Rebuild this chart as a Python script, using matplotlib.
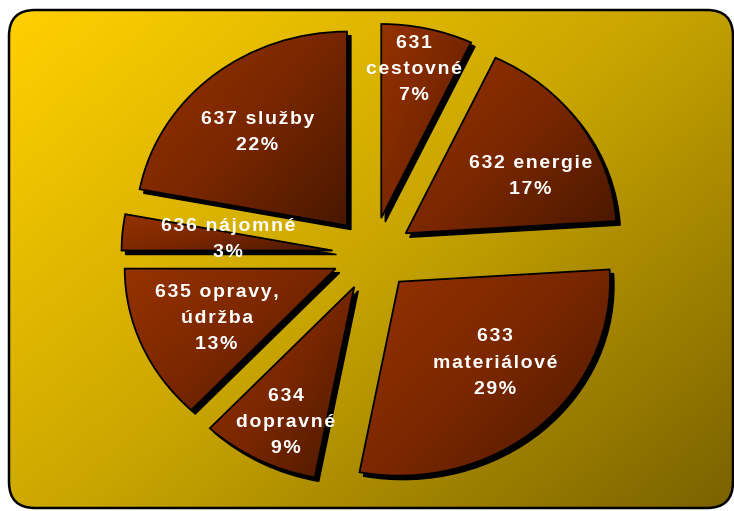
import numpy as np
import matplotlib
matplotlib.use('Agg')
import matplotlib.pyplot as plt
from matplotlib.patches import FancyBboxPatch
from matplotlib.colors import LinearSegmentedColormap

# Data
categories = ['631\ncestovné', '632 energie', '633\nmateriálové', '634\ndopravné',
              '635 opravy,\núdržba', '636 nájomné', '637 služby']
shares = [7, 17, 29, 9, 13, 3, 22]

# styling
explode_amt = 0.19
label_radius = [0.78, 0.66, 0.62, 0.77, 0.62, 0.50, 0.64]
label_angle_shift = [1, -8, 6, 2, 1, -1, 2]


def spaced(s):
    # Excel draws these labels with a little extra tracking
    return '\n'.join('\u200a'.join(line) for line in s.split('\n'))


W, H = 734, 511
fig = plt.figure(figsize=(W / 100, H / 100), dpi=100)
fig.patch.set_facecolor('white')

# background panel with a diagonal gold gradient
bg_ax = fig.add_axes([0, 0, 1, 1])
bg_ax.set_xlim(0, W)
bg_ax.set_ylim(H, 0)
bg_ax.axis('off')
panel = FancyBboxPatch((9, 10), 724, 498, boxstyle='round,pad=0,rounding_size=26',
                       facecolor='none', edgecolor='black', linewidth=1.8, zorder=3)
bg_ax.add_patch(panel)
yy, xx = np.mgrid[0:1:200j, 0:1:300j]
grad = (xx * 0.55 + yy * 0.45)
bg_cmap = LinearSegmentedColormap.from_list('bg', ['#FFD000', '#C9A500', '#7A6200'])
img = bg_ax.imshow(grad, cmap=bg_cmap, extent=[9, 733, 508, 10], aspect='auto',
                   interpolation='bilinear', zorder=1)
img.set_clip_path(panel)

# pie axes: unit circle maps to an ellipse (about 211 x 194 px)
cx, cy, rx, ry = 372.5, 254, 211, 194
ax = fig.add_axes([0, 0, 1, 1])
ax.patch.set_alpha(0)
explode = [explode_amt] * len(shares)

# shadow
shadow, _ = ax.pie(shares, explode=explode, startangle=90, counterclock=False,
                   center=(4 / rx, -4 / ry),
                   wedgeprops=dict(facecolor='black', edgecolor='black', linewidth=1))
# main wedges
wedges, _ = ax.pie(shares, explode=explode, startangle=90, counterclock=False,
                   wedgeprops=dict(facecolor='none', edgecolor='black', linewidth=1.3))

slice_cmap = LinearSegmentedColormap.from_list('slice', ['#963200', '#7A2700', '#481700'])
for w in wedges:
    w.set_zorder(4)
    ext = w.get_path().get_extents()
    g = ax.imshow(grad, cmap=slice_cmap, extent=[ext.x0, ext.x1, ext.y0, ext.y1],
                  origin='upper', aspect='auto', interpolation='bilinear', zorder=3)
    g.set_clip_path(w)

# labels
for w, lab, pct, r, da in zip(wedges, categories, shares, label_radius, label_angle_shift):
    mid = np.deg2rad((w.theta1 + w.theta2) / 2 + da)
    x = w.center[0] + r * np.cos(mid)
    y = w.center[1] + r * np.sin(mid)
    ax.text(x, y, spaced(f'{lab}\n{pct}%'), ha='center', va='center',
            multialignment='center', color='white', fontsize=14, fontweight='bold',
            family=['Liberation Sans', 'DejaVu Sans'], linespacing=1.7, zorder=6)

ax.set_aspect('auto')
ax.set_xlim(-cx / rx, (W - cx) / rx)
ax.set_ylim(-(H - cy) / ry, cy / ry)
ax.axis('off')

fig.savefig('out.png', dpi=100, facecolor='white')
